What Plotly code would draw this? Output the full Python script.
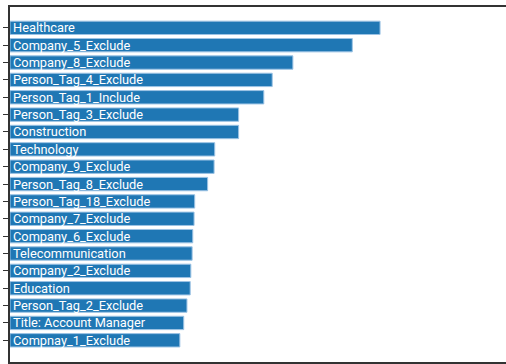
import plotly.graph_objects as go

categories = [
    "Healthcare", "Company_5_Exclude", "Company_8_Exclude", "Person_Tag_4_Exclude",
    "Person_Tag_1_Include", "Person_Tag_3_Exclude", "Construction", "Technology",
    "Company_9_Exclude", "Person_Tag_8_Exclude", "Person_Tag_18_Exclude",
    "Company_7_Exclude", "Company_6_Exclude", "Telecommunication", "Company_2_Exclude",
    "Education", "Person_Tag_2_Exclude", "Title: Account Manager", "Compnay_1_Exclude",
]
values = [573, 530, 438, 406, 393, 354, 354, 317, 316, 306, 286, 285, 283, 282, 280, 279, 274, 269, 263]

fig = go.Figure(go.Bar(
    x=values,
    y=categories,
    orientation="h",
    text=categories,
    textposition="inside",
    insidetextanchor="start",
    constraintext="none",
    textfont=dict(color="white", size=12.8, family="Roboto"),
    marker=dict(color="#1f77b4", line=dict(color="#9cc3e4", width=1)),
    hoverinfo="x+y",
))

n = len(categories)
fig.update_layout(
    template="none",
    width=506, height=364,
    margin=dict(l=10, r=0, t=7, b=2),
    paper_bgcolor="white", plot_bgcolor="white",
    bargap=0.23,
    showlegend=False,
    xaxis=dict(
        range=[0, 768], dtick=100, showgrid=False, zeroline=False,
        showline=True, linecolor="#333333", linewidth=1.5, mirror=True,
        ticks="outside", ticklen=3, tickcolor="#333333",
        showticklabels=False, automargin=False,
    ),
    yaxis=dict(
        type="category", categoryorder="array", categoryarray=categories,
        range=[n - 1 + 1.25, -1.2], showgrid=False, zeroline=False,
        showline=True, linecolor="#333333", linewidth=1.5, mirror=False,
        ticks="outside", ticklen=5, tickcolor="#333333",
        showticklabels=False, automargin=False,
    ),
)

fig.write_html(
    "out.html",
    config={"displayModeBar": False},
    post_script="document.body.style.margin='0';document.body.style.overflow='hidden';",
)
